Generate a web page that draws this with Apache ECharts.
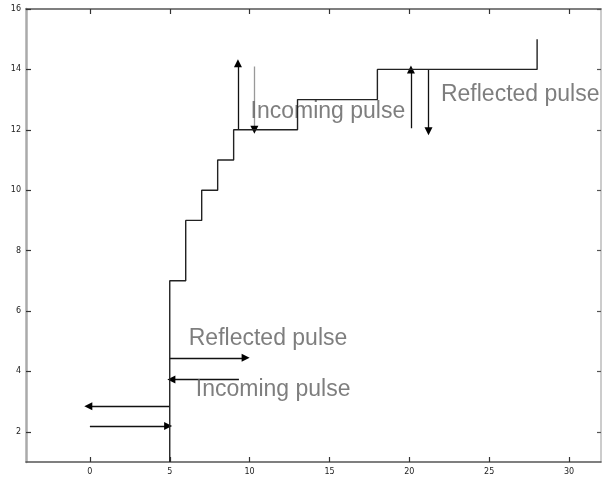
<!DOCTYPE html>
<html>
<head>
<meta charset="utf-8">
<script src="https://cdn.jsdelivr.net/npm/echarts@6/dist/echarts.min.js"></script>
<style>html,body{margin:0;padding:0;background:#fff}#c{width:603px;height:480px}</style>
</head>
<body>
<div id="c"></div>
<script>
// ---- data ----
var stepX = [5, 5, 6, 7, 8, 9, 13, 18, 28];
var stepY = [1, 7, 9, 10, 11, 12, 13, 14, 15];
var xTicks = [0, 5, 10, 15, 20, 25, 30];
var yTicks = [2, 4, 6, 8, 10, 12, 14, 16];
// arrows: from (x0,y0) to (x1,y1), head at the end
var arrowX0 = [9.27, 10.3, 20.1, 21.2, 5.0, 9.33, 5.0, 0.0];
var arrowY0 = [12.0, 14.1, 12.05, 14.0, 4.45, 3.73, 2.85, 2.19];
var arrowX1 = [9.27, 10.3, 20.1, 21.2, 9.75, 5.1, -0.1, 4.9];
var arrowY1 = [14.2, 12.0, 14.0, 11.95, 4.45, 3.73, 2.85, 2.19];
var arrowGrey = [false, true, false, false, false, false, false, false];
var noteText = ['Incoming pulse', 'Reflected pulse', 'Reflected pulse', 'Incoming pulse'];
var noteX = [10.06, 21.98, 6.19, 6.63];
var noteY = [12.6, 13.18, 5.09, 3.38];

// ---- build ----
var stepData = stepX.map(function (x, i) { return [x, stepY[i]]; });
var arrowLines = [];
var arrowHeads = [];
for (var i = 0; i < arrowX0.length; i++) {
  arrowLines.push({
    coords: [[arrowX0[i], arrowY0[i]], [arrowX1[i], arrowY1[i]]],
    lineStyle: { color: arrowGrey[i] ? '#999' : '#111', opacity: 1 }
  });
  var fx = arrowX1[i] - (arrowX1[i] - arrowX0[i]) * 0.02;
  var fy = arrowY1[i] - (arrowY1[i] - arrowY0[i]) * 0.02;
  arrowHeads.push({ coords: [[fx, fy], [arrowX1[i], arrowY1[i]]] });
}
var noteData = noteText.map(function (t, i) { return { value: [noteX[i], noteY[i]], name: t }; });

var axisFont = { fontFamily: 'DejaVu Sans', fontSize: 8, color: '#222' };
var chart = echarts.init(document.getElementById('c'), null, { renderer: 'canvas' });
chart.setOption({
  animation: false,
  backgroundColor: '#fff',
  grid: { left: 26, right: 2, top: 9, bottom: 18, containLabel: false },
  xAxis: [
    {
      type: 'value', min: -4, max: 32, position: 'bottom',
      axisLine: { onZero: false, lineStyle: { color: '#555', width: 1.5 } },
      axisTick: { inside: true, length: 5, customValues: xTicks, lineStyle: { color: '#333', width: 1.2 } },
      axisLabel: Object.assign({ customValues: xTicks, margin: 6 }, axisFont),
      splitLine: { show: false }
    },
    {
      type: 'value', min: -4, max: 32, position: 'top',
      axisLine: { onZero: false, lineStyle: { color: '#555', width: 1.5 } },
      axisTick: { inside: true, length: 5, customValues: xTicks, lineStyle: { color: '#333', width: 1.2 } },
      axisLabel: { show: false },
      splitLine: { show: false }
    }
  ],
  yAxis: [
    {
      type: 'value', min: 1, max: 16, position: 'left',
      axisLine: { onZero: false, lineStyle: { color: '#aaa', width: 2.5 } },
      axisTick: { inside: true, length: 5, customValues: yTicks, lineStyle: { color: '#333', width: 1.2 } },
      axisLabel: Object.assign({ customValues: yTicks, margin: 5 }, axisFont),
      splitLine: { show: false }
    },
    {
      type: 'value', min: 1, max: 16, position: 'right',
      axisLine: { onZero: false, lineStyle: { color: '#bbb', width: 1.5 } },
      axisTick: { inside: true, length: 4, customValues: yTicks, lineStyle: { color: '#555', width: 1.2 } },
      axisLabel: { show: false },
      splitLine: { show: false }
    }
  ],
  series: [
    {
      type: 'line', step: 'end', data: stepData, symbol: 'none',
      lineStyle: { color: '#222', width: 1.4 }, silent: true
    },
    {
      type: 'lines', coordinateSystem: 'cartesian2d', data: arrowLines,
      symbol: ['none', 'none'], lineStyle: { width: 1.3, opacity: 1 }, silent: true
    },
    {
      type: 'lines', coordinateSystem: 'cartesian2d', data: arrowHeads,
      symbol: ['none', 'triangle'], symbolSize: [5, 8],
      lineStyle: { color: '#000', width: 1.2, opacity: 1 }, silent: true
    },
    {
      type: 'scatter', data: noteData, symbolSize: 0, silent: true,
      label: {
        show: true, position: 'inside', align: 'left', verticalAlign: 'middle',
        formatter: function (p) { return p.name; },
        fontFamily: 'Liberation Sans', fontSize: 23, color: '#5e5e5e'
      }
    }
  ]
});
</script>
</body>
</html>
